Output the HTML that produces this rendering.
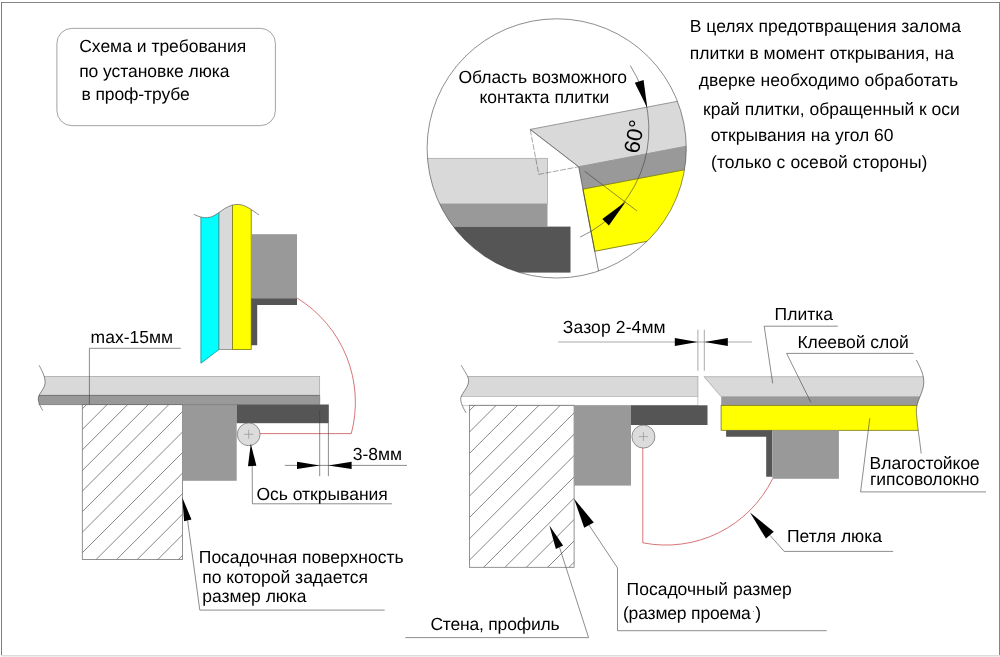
<!DOCTYPE html>
<html><head><meta charset="utf-8"><title>Схема установки люка</title>
<style>
html,body{margin:0;padding:0;background:#fff;}
body{width:1000px;height:657px;overflow:hidden;}
svg{display:block;will-change:transform;}
text{font-family:"Liberation Sans",sans-serif;font-size:17.5px;fill:#000;text-rendering:geometricPrecision;}
.l{stroke:#404040;stroke-width:.6;fill:none;}
.h path{stroke:#333;stroke-width:.6;fill:none;}
.b{stroke:#777;stroke-width:.8;fill:none;}
.t{fill:#d9d9d9;stroke:#a0a0a0;stroke-width:.7;}
.g{fill:#999;}
.d{fill:#555;}
.y{fill:#ff0;stroke:#77770a;stroke-width:.8;}
.r{stroke:#d05c60;stroke-width:.85;fill:none;}
</style></head><body>
<svg width="1000" height="657" viewBox="0 0 1000 657">
<rect x="0" y="0" width="1000" height="657" fill="#fff"/>
<!-- frame -->
<rect x="1" y="2" width="999" height="1" fill="#858585"/>
<rect x="1" y="2" width="1" height="653.5" fill="#7d7d7d"/>
<rect x="999" y="2" width="1" height="653.5" fill="#858585"/>
<rect x="1" y="655" width="999" height="1" fill="#dcdcdc"/>
<rect x="1" y="656" width="999" height="1" fill="#ededed"/>

<rect x="56.9" y="28.35" width="218.5" height="97.3" rx="15" ry="15" fill="none" stroke="#8c8c8c" stroke-width=".8"/>
<text x="79.2" y="51.6">Схема и требования</text>
<text x="79.2" y="76.6" textLength="150.2">по установке люка</text>
<text x="81.5" y="100.4" textLength="108.2">в проф-трубе</text>
<text x="689.8" y="31.5">В целях предотвращения залома</text>
<text x="689.7" y="59.1">плитки в момент открывания, на</text>
<text x="698.8" y="86.3" textLength="259.2">дверке необходимо обработать</text>
<text x="703" y="114.8">край плитки, обращенный к оси</text>
<text x="710.7" y="141.4">открывания на угол 60</text>
<text x="711" y="167.9" textLength="216.4">(только с осевой стороны)</text>
<!-- left diagram: open door -->
<clipPath id="cw"><path d="M194,214.4 C199,216.9 203,217.9 207.5,217.7 C217,217.3 224.5,204.7 236.8,204.4 C245,204.2 252,210 259,215 L259,400 L194,400 Z"/></clipPath>
<g clip-path="url(#cw)">
<polygon points="200.9,190 219,190 219,349.5 200.9,363.2" fill="#0ff" stroke="#009a9a" stroke-width=".8"/>
<rect x="219" y="190" width="13.4" height="159.5" fill="#d9d9d9" stroke="#777" stroke-width=".7"/>
<rect x="232.4" y="190" width="18.8" height="159.5" class="y"/>
</g>
<path d="M194,214.4 C199,216.9 203,217.9 207.5,217.7 C217,217.3 224.5,204.7 236.8,204.4 C245,204.2 252,210 259,215" class="l"/>
<rect x="251.2" y="234.2" width="45.8" height="64.1" class="g"/>
<path d="M251.2,298.3 H297 V305 H257.2 V345.2 H251.2 Z" class="d"/>
<clipPath id="cl"><path d="M39.2,365.3 C42,371 45.6,377 45,383.5 C44.4,390 37.4,394 38.3,400 C39,404.5 41,407.5 42.8,410.5 L330,410.5 L330,365.3 Z"/></clipPath>
<g clip-path="url(#cl)">
<rect x="30" y="376.4" width="289.7" height="19" class="t"/>
<rect x="30" y="395.4" width="289.7" height="9.2" class="g"/>
<path d="M30,395.4 H319.7" stroke="#666" stroke-width=".8" fill="none"/>
</g>
<path d="M39.2,365.3 C42,371 45.6,377 45,383.5 C44.4,390 37.4,394 38.3,400 C39,404.5 41,407.5 42.8,410.5" class="l"/>
<clipPath id="hl"><rect x="82.3" y="404.5" width="100.3" height="155.05"/></clipPath>
<g clip-path="url(#hl)" class="h">
<path d="M80.3,410.84 L88.64,402.5"/>
<path d="M80.3,431.4 L109.2,402.5"/>
<path d="M80.3,451.96 L129.76,402.5"/>
<path d="M80.3,472.52 L150.32,402.5"/>
<path d="M80.3,493.08 L170.88,402.5"/>
<path d="M80.3,513.64 L191.44,402.5"/>
<path d="M80.3,534.2 L212,402.5"/>
<path d="M80.3,554.76 L232.56,402.5"/>
<path d="M80.3,575.32 L253.12,402.5"/>
<path d="M80.3,595.88 L273.68,402.5"/>
<path d="M80.3,616.44 L294.24,402.5"/>
<path d="M80.3,637 L314.8,402.5"/>
<path d="M80.3,657.56 L335.36,402.5"/>
</g>
<rect x="82.3" y="404.5" width="100.3" height="155.05" class="b"/>
<rect x="182.6" y="404.5" width="54.1" height="76.3" class="g"/>
<rect x="236.7" y="404.5" width="92.1" height="18.7" class="d"/>
<path d="M38.5,404.6 H319.7 V395.4" stroke="#707070" stroke-width=".7" fill="none"/>
<path d="M260,433.6 H351.3 A122.3,122.3 0 0 0 297,298" class="r"/>
<circle cx="248.7" cy="434.3" r="11.4" fill="#dcdcdc" stroke="#6a6a6a" stroke-width=".7"/>
<path d="M244.2,434.3 H253.2 M248.7,429.8 V438.8" stroke="#9a9a9a" stroke-width=".8" fill="none"/>
<path d="M89.4,404.4 V348.3 H180.8" class="l"/>
<text x="90.6" y="342.8">max-15мм</text>
<path d="M319.7,410 V476.2 M328.4,423.2 V476.2 M284.8,465.4 H407" class="l"/>
<polygon points="319.7,465.4 297,469 297,461.8" fill="#000"/>
<polygon points="328.4,465.4 351.6,461.8 351.6,469" fill="#000"/>
<text x="352.8" y="460.2">3-8мм</text>
<path d="M252.2,466 L252.4,503.8 H392" class="l"/>
<polygon points="250.8,443.8 256.39,465.74 248.01,466.26" fill="#000"/>
<text x="256.4" y="500.3">Ось открывания</text>
<path d="M187.6,520.5 L199.8,610.1 H384.7" class="l"/>
<polygon points="182.3,497.6 191.49,519.51 184.11,521.29" fill="#000"/>
<text x="198.8" y="562.5">Посадочная поверхность</text>
<text x="202.2" y="582.7">по которой задается</text>
<text x="202.3" y="601.7" textLength="104.3">размер люка</text>
<!-- right diagram: closed door -->
<clipPath id="cr"><path d="M461.3,365.3 C464,371 469,376 468.6,381.5 C468,389 460,394 460.7,400 C461.3,405 464,409 466,412.8 L700,412.8 L700,365.3 Z"/></clipPath>
<g clip-path="url(#cr)">
<rect x="450" y="376.4" width="247.9" height="20" class="t"/>
<rect x="450" y="396.4" width="247.9" height="8.9" fill="#fff" stroke="#b4b4b4" stroke-width=".7"/>
</g>
<path d="M461.3,365.3 C464,371 469,376 468.6,381.5 C468,389 460,394 460.7,400 C461.3,405 464,409 466,412.8" class="l"/>
<clipPath id="hr"><rect x="469.4" y="405.3" width="104.7" height="162"/></clipPath>
<g clip-path="url(#hr)" class="h">
<path d="M467.4,412.75 L476.85,403.3"/>
<path d="M467.4,434.1 L498.2,403.3"/>
<path d="M467.4,455.45 L519.55,403.3"/>
<path d="M467.4,476.8 L540.9,403.3"/>
<path d="M467.4,498.15 L562.25,403.3"/>
<path d="M467.4,519.5 L583.6,403.3"/>
<path d="M467.4,540.85 L604.95,403.3"/>
<path d="M467.4,562.2 L626.3,403.3"/>
<path d="M467.4,583.55 L647.65,403.3"/>
<path d="M467.4,604.9 L669,403.3"/>
<path d="M467.4,626.25 L690.35,403.3"/>
<path d="M467.4,647.6 L711.7,403.3"/>
<path d="M467.4,668.95 L733.05,403.3"/>
</g>
<rect x="469.4" y="405.3" width="104.7" height="162" class="b"/>
<rect x="574.1" y="405.3" width="56.9" height="80.3" class="g"/>
<rect x="631" y="405.3" width="76.5" height="19.7" class="d"/>
<path d="M642.8,448 V542.8 A119,119 0 0 0 772.6,478.8" class="r"/>
<circle cx="643.4" cy="436.6" r="11.5" fill="#dcdcdc" stroke="#6a6a6a" stroke-width=".7"/>
<path d="M638.9,436.6 H647.9 M643.4,432.1 V441.1" stroke="#9a9a9a" stroke-width=".8" fill="none"/>
<clipPath id="cd"><path d="M916.4,360 C920,367 924.2,375 923.8,383 C923.2,394 915.7,401 916.4,412.5 C917.1,425 919.6,439 921.2,453.5 L700,453.5 L700,360 Z"/></clipPath>
<g clip-path="url(#cd)">
<polygon points="704,376.7 940,376.7 940,396.7 721.2,396.7" class="t"/>
<rect x="721.2" y="396.7" width="220" height="8.7" class="g"/>
<rect x="721.1" y="405.4" width="220" height="24.9" class="y"/>
</g>
<path d="M916.4,360 C920,367 924.2,375 923.8,383 C923.2,394 915.7,401 916.4,412.5 C917.1,425 919.6,439 921.2,453.5" class="l"/>
<path d="M726.1,430.3 H772.3 V476.8 H766.2 V436.8 H726.1 Z" class="d"/>
<rect x="772.3" y="430.3" width="66.6" height="48.5" class="g"/>
<path d="M558.3,342 H752 M697.9,329.7 V370.8 M704.3,329.7 V370.8" class="l" style="stroke:#707070"/>
<polygon points="697.6,342 674.8,346 674.8,338" fill="#000"/>
<polygon points="704.6,342 727.8,338 727.8,346" fill="#000"/>
<text x="562.8" y="333.4" textLength="102.8">Зазор 2-4мм</text>
<path d="M837.8,326.2 H764.2 L772.7,383.4" class="l"/>
<text x="774.6" y="319.7">Плитка</text>
<path d="M913.6,353.4 H786.6 L810.9,402.4" class="l"/>
<text x="797.4" y="347.5" textLength="111.4">Клеевой слой</text>
<path d="M869.8,418.3 L860.6,491.9 H986" class="l"/>
<text x="869.6" y="469.4" textLength="110.2">Влагостойкое</text>
<text x="869.9" y="485.3" textLength="109.4">гипсоволокно</text>
<path d="M769.85,535.2 L784.2,551.4 H893.2" class="l"/>
<polygon points="750,512.4 773.77,531.79 765.93,538.61" fill="#000"/>
<text x="787" y="542.4">Петля люка</text>
<path d="M589,525.1 L617.5,567.9 V630.7 H826.8" class="l"/>
<polygon points="574.1,498.8 593.79,522.39 584.21,527.81" fill="#000"/>
<text x="626.6" y="595">Посадочный размер</text>
<text x="622.9" y="618.8" textLength="138.2">(размер проема )</text>
<circle cx="753.4" cy="611.6" r=".55" fill="#666"/>
<path d="M559.5,547.3 L588.6,637.6 H405.3" class="l"/>
<polygon points="549.4,525.4 563.13,545.62 555.87,548.98" fill="#000"/>
<text x="430.4" y="630" textLength="129.2">Стена, профиль</text>
<!-- detail circle -->
<clipPath id="cc"><circle cx="556.7" cy="148.4" r="129.6"/></clipPath>
<g clip-path="url(#cc)">
<rect x="400" y="158.3" width="147.5" height="45.6" class="t"/>
<rect x="400" y="203.9" width="147.5" height="22.7" class="g"/>
<rect x="400" y="226.6" width="170.5" height="46" class="d"/>
<g transform="translate(530.2,129.4) rotate(-10.8)">
<polygon points="0,0 220,0 220,45.8 40.6,45.8" class="t" style="stroke:#7a7a7a"/>
<rect x="40.6" y="45.8" width="200" height="22.8" class="g"/>
<rect x="40.6" y="68.6" width="200" height="63.2" class="y"/>
<path d="M40.6,45.8 V200" class="l"/>
<path d="M0,0 V45.8 H40.6" stroke="#4a4a4a" stroke-width=".45" fill="none" stroke-dasharray="6 1.5"/>
<path d="M0,0 L40.6,45.8" stroke="#666" stroke-width=".6" fill="none"/>
</g>
<path d="M584.6,171.2 L636.9,210.9" class="l"/>
</g>
<circle cx="556.7" cy="148.4" r="129.6" fill="none" class="l"/>
<path d="M630.2,65.45 A118.7,118.7 0 0 1 580.18,237.07" class="l"/>
<polygon points="647.3,107.9 634.8,82.64 643.6,79.96" fill="#000"/>
<polygon points="625.9,201.4 608.89,225.41 602.31,218.99" fill="#000"/>
<text transform="translate(638.4,154.2) rotate(-78.7)" style="font-size:22px">60°</text>
<text x="458.5" y="82.5">Область возможного</text>
<text x="479.4" y="103">контакта плитки</text>
</svg></body></html>
